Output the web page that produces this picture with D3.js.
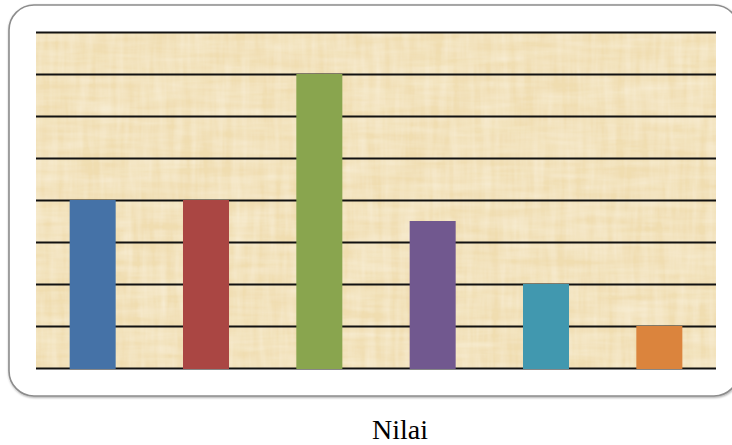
<!DOCTYPE html>
<html>
<head>
<meta charset="utf-8">
<script src="https://cdn.jsdelivr.net/npm/d3@7"></script>
<style>
  html, body { margin: 0; padding: 0; background: #fff; }
  svg { display: block; }
</style>
</head>
<body>
<script>
// Chart data
const categories = ["1", "2", "3", "4", "5", "6"];
const values = [4, 4, 7, 3.5, 2, 1];
const barColors = ["#4572a7", "#aa4643", "#89a54e", "#71588f", "#4198af", "#db843d"];
const yTicks = [0, 1, 2, 3, 4, 5, 6, 7, 8];
const axisTitle = "Nilai";

const W = 732, H = 445;
const plot = { left: 36, right: 716, top: 32, bottom: 368 };

const svg = d3.select("body").append("svg")
  .attr("width", W).attr("height", H);

const defs = svg.append("defs");

// Papyrus-like paper texture: soft fibrous streaks over a warm base
const f = defs.append("filter").attr("id", "paper")
  .attr("x", 0).attr("y", 0).attr("width", 1).attr("height", 1);
f.append("feTurbulence").attr("type", "fractalNoise")
  .attr("baseFrequency", "0.12 0.015").attr("numOctaves", 3).attr("seed", 3).attr("result", "n1");
f.append("feTurbulence").attr("type", "fractalNoise")
  .attr("baseFrequency", "0.015 0.12").attr("numOctaves", 3).attr("seed", 7).attr("result", "n2");
f.append("feComposite").attr("in", "n1").attr("in2", "n2")
  .attr("operator", "arithmetic").attr("k2", 0.55).attr("k3", 0.45).attr("result", "n");
// light streaks: colour fixed, alpha driven by the noise
f.append("feColorMatrix").attr("in", "n").attr("type", "matrix")
  .attr("values", "0 0 0 0 0.97  0 0 0 0 0.92  0 0 0 0 0.79  1.1 0 0 0 -0.35")
  .attr("result", "light");
// slightly deeper yellowish patches
f.append("feColorMatrix").attr("in", "n2").attr("type", "matrix")
  .attr("values", "0 0 0 0 0.91  0 0 0 0 0.82  0 0 0 0 0.58  0 -0.9 0 0 0.45")
  .attr("result", "dark");
f.append("feFlood").attr("flood-color", "#f0ddb0").attr("result", "base");
f.append("feComposite").attr("in", "dark").attr("in2", "base").attr("operator", "over").attr("result", "b2");
f.append("feComposite").attr("in", "light").attr("in2", "b2").attr("operator", "over").attr("result", "mix");
f.append("feComposite").attr("in", "mix").attr("in2", "SourceGraphic").attr("operator", "in");

const sh = defs.append("filter").attr("id", "shadow")
  .attr("x", -0.05).attr("y", -0.05).attr("width", 1.1).attr("height", 1.1);
sh.append("feDropShadow").attr("dx", 0.5).attr("dy", 1).attr("stdDeviation", 0.8)
  .attr("flood-color", "#000").attr("flood-opacity", 0.35);

// Chart frame
svg.append("rect")
  .attr("x", 9).attr("y", 5).attr("width", 730).attr("height", 391)
  .attr("rx", 25).attr("ry", 25)
  .attr("fill", "#fff").attr("stroke", "#8c8c8c").attr("stroke-width", 1.6)
  .attr("filter", "url(#shadow)");

// Scales
const x = d3.scaleBand().domain(categories)
  .range([plot.left, plot.right])
  .paddingInner(0.594).paddingOuter(0.297);
const y = d3.scaleLinear().domain([0, 8]).range([plot.bottom, plot.top]);

// Plot background
svg.append("rect")
  .attr("x", plot.left).attr("y", plot.top)
  .attr("width", plot.right - plot.left).attr("height", plot.bottom - plot.top)
  .attr("fill", "#f0ddb0").attr("filter", "url(#paper)");

// Horizontal gridlines
const grid = svg.append("g")
  .attr("transform", `translate(${plot.left},0)`)
  .call(d3.axisLeft(y).tickValues(yTicks)
    .tickSize(-(plot.right - plot.left)).tickFormat(""));
grid.select(".domain").remove();
grid.selectAll(".tick line").attr("stroke", "#111").attr("stroke-width", 2);

// Bars
svg.append("g").selectAll("rect")
  .data(values)
  .join("rect")
  .attr("x", (d, i) => x(categories[i]))
  .attr("width", x.bandwidth())
  .attr("y", d => y(d))
  .attr("height", d => y(0) - y(d) + 1)
  .attr("fill", (d, i) => barColors[i]);

// Axis title
svg.append("text")
  .attr("x", 400).attr("y", 439)
  .attr("text-anchor", "middle")
  .attr("font-family", "'Liberation Serif', 'Times New Roman', serif")
  .attr("font-size", 28)
  .attr("fill", "#000")
  .text(axisTitle);
</script>
</body>
</html>
